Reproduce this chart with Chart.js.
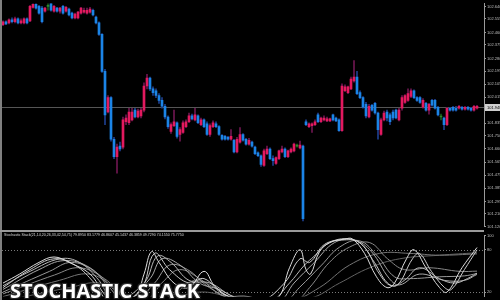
<!DOCTYPE html>
<html>
<head>
<meta charset="utf-8">
<script src="https://cdn.jsdelivr.net/npm/chart.js@4"></script>
<style>
  html, body { margin: 0; padding: 0; background: #000; }
  #wrap { position: relative; width: 500px; height: 300px; overflow: hidden; background: #000; }
  #mainChart { position: absolute; left: 0; top: 0; }
  #stochChart { position: absolute; left: 0; top: 232px; }
  #sep { position: absolute; left: 0; top: 230px; width: 484px; height: 2px; background: #9a9a9a; }
  #stochTitle {
    position: absolute; left: 4px; top: 233px; font: 3.6px "Liberation Sans", Arial, sans-serif;
    color: #d8d8d8; white-space: nowrap;
  }
  #bigTitle {
    position: absolute; left: 10px; top: 281px; font: bold 20px "Open Sans", sans-serif;
    line-height: 20px; color: #fff; white-space: nowrap;
    text-shadow: 1px 1px 1px #222, -1px -1px 1px #333, 1px -1px 1px #333, -1px 1px 1px #333;
  }
</style>
</head>
<body>
<div id="wrap">
  <canvas id="mainChart" width="500" height="230"></canvas>
  <div id="sep"></div>
  <canvas id="stochChart" width="500" height="68"></canvas>
  <div id="stochTitle">Stochastic Stack(21,14,20,26,33,42,54,75) 79.8950 83.1779 46.8607 45.1437 46.3859 49.7290 74.1550 75.7750</div>
  <div id="bigTitle">STOCHASTIC STACK</div>
</div>
<script>
const priceLabels = [102.640, 102.555, 102.460, 102.375, 102.280, 102.195, 102.105, 102.015, 101.925,
  101.835, 101.750, 101.660, 101.565, 101.475, 101.385, 101.295, 101.210, 101.120];
const currentPrice = 101.948;
const stochLevels = [100, 80, 20];

const opens = [102.515, 102.535, 102.528, 102.548, 102.535, 102.555, 102.528, 102.528, 102.555, 102.541,
  102.635, 102.655, 102.642, 102.629, 102.608, 102.642, 102.662, 102.608, 102.629, 102.608,
  102.642, 102.608, 102.622, 102.595, 102.562, 102.562, 102.595, 102.602, 102.595, 102.602,
  102.615, 102.568, 102.528, 102.448, 102.193, 101.912, 102.012, 101.724, 101.603, 101.677,
  101.670, 101.845, 101.838, 101.858, 101.925, 101.878, 101.885, 101.925, 102.092, 102.146,
  102.072, 102.059, 102.026, 101.992, 101.952, 101.878, 101.778, 101.818, 101.838, 101.757,
  101.771, 101.811, 101.845, 101.885, 101.858, 101.885, 101.825, 101.858, 101.831, 101.757,
  101.811, 101.831, 101.811, 101.751, 101.744, 101.737, 101.724, 101.717, 101.637, 101.704,
  101.757, 101.724, 101.690, 101.704, 101.670, 101.630, 101.610, 101.543, 101.624, 101.657,
  101.590, 101.557, 101.590, 101.637, 101.657, 101.603, 101.637, 101.644, 101.677, 101.664,
  101.677, 101.845, 101.811, 101.818, 101.825, 101.892, 101.845, 101.858, 101.851, 101.851,
  101.892, 101.871, 101.858, 101.784, 102.059, 102.046, 102.072, 102.126, 102.153, 102.046,
  102.012, 101.965, 101.878, 101.959, 101.972, 101.905, 101.757, 101.858, 101.912, 101.892,
  101.912, 101.925, 101.858, 101.938, 101.979, 101.992, 102.019, 102.059, 102.012, 102.012,
  101.945, 101.972, 101.925, 101.992, 101.992, 101.945, 101.878, 101.871, 101.825, 101.938,
  101.945, 101.938, 101.938, 101.945, 101.932, 101.945, 101.938, 101.925, 101.938];
const highs = [102.541, 102.541, 102.555, 102.562, 102.568, 102.562, 102.555, 102.562, 102.562, 102.649,
  102.662, 102.662, 102.649, 102.642, 102.635, 102.662, 102.662, 102.649, 102.635, 102.635,
  102.649, 102.642, 102.629, 102.602, 102.595, 102.608, 102.635, 102.629, 102.629, 102.635,
  102.622, 102.575, 102.535, 102.454, 102.206, 102.026, 102.019, 101.737, 101.690, 101.704,
  101.878, 101.892, 101.938, 101.938, 101.938, 101.932, 101.938, 102.113, 102.173, 102.153,
  102.086, 102.072, 102.039, 102.012, 101.965, 101.885, 101.838, 101.925, 101.845, 101.804,
  101.851, 101.858, 101.905, 101.898, 101.938, 101.892, 101.871, 101.865, 101.845, 101.831,
  101.851, 101.845, 101.818, 101.757, 101.751, 101.744, 101.791, 101.724, 101.737, 101.804,
  101.764, 101.731, 101.731, 101.711, 101.677, 101.637, 101.617, 101.657, 101.677, 101.664,
  101.610, 101.603, 101.650, 101.677, 101.664, 101.650, 101.664, 101.697, 101.690, 101.711,
  101.684, 101.858, 101.838, 101.838, 101.858, 101.905, 101.878, 101.885, 101.878, 101.871,
  101.898, 101.878, 101.865, 102.106, 102.099, 102.092, 102.153, 102.267, 102.193, 102.059,
  102.019, 101.979, 101.965, 101.965, 101.979, 101.912, 101.871, 101.918, 101.925, 101.905,
  101.925, 101.932, 101.938, 102.026, 102.032, 102.072, 102.072, 102.066, 102.019, 102.019,
  102.005, 101.979, 101.972, 101.999, 101.999, 101.952, 101.898, 101.878, 101.945, 101.945,
  101.952, 101.952, 101.959, 101.952, 101.952, 101.952, 101.945, 101.959, 101.959];
const lows = [102.508, 102.515, 102.521, 102.528, 102.528, 102.521, 102.521, 102.521, 102.521, 102.535,
  102.629, 102.622, 102.588, 102.528, 102.602, 102.615, 102.608, 102.602, 102.602, 102.595,
  102.588, 102.602, 102.575, 102.555, 102.555, 102.555, 102.588, 102.595, 102.588, 102.595,
  102.575, 102.521, 102.441, 102.186, 101.825, 101.905, 101.711, 101.590, 101.490, 101.644,
  101.657, 101.825, 101.825, 101.851, 101.871, 101.871, 101.871, 101.912, 102.072, 102.059,
  102.026, 102.012, 101.972, 101.938, 101.865, 101.798, 101.764, 101.811, 101.731, 101.711,
  101.764, 101.804, 101.838, 101.858, 101.851, 101.831, 101.818, 101.804, 101.751, 101.744,
  101.804, 101.804, 101.751, 101.717, 101.717, 101.717, 101.717, 101.630, 101.630, 101.697,
  101.711, 101.684, 101.684, 101.670, 101.617, 101.603, 101.536, 101.536, 101.617, 101.583,
  101.543, 101.550, 101.583, 101.630, 101.597, 101.597, 101.630, 101.637, 101.670, 101.657,
  101.161, 101.818, 101.804, 101.771, 101.818, 101.838, 101.838, 101.851, 101.845, 101.845,
  101.851, 101.845, 101.778, 101.778, 102.052, 102.039, 102.066, 102.119, 102.032, 102.005,
  101.938, 101.871, 101.871, 101.918, 101.898, 101.724, 101.751, 101.851, 101.851, 101.825,
  101.858, 101.865, 101.851, 101.925, 101.972, 101.985, 102.012, 102.005, 101.985, 101.972,
  101.938, 101.918, 101.898, 101.952, 101.932, 101.885, 101.858, 101.791, 101.818, 101.918,
  101.918, 101.918, 101.932, 101.925, 101.925, 101.925, 101.918, 101.918, 101.932];
const closes = [102.535, 102.521, 102.548, 102.535, 102.555, 102.528, 102.541, 102.555, 102.528, 102.642,
  102.655, 102.629, 102.595, 102.535, 102.629, 102.642, 102.615, 102.642, 102.608, 102.629,
  102.595, 102.635, 102.582, 102.562, 102.588, 102.602, 102.629, 102.615, 102.615, 102.622,
  102.582, 102.528, 102.448, 102.193, 101.892, 102.012, 101.724, 101.603, 101.670, 101.657,
  101.858, 101.871, 101.912, 101.912, 101.878, 101.918, 101.925, 102.092, 102.146, 102.072,
  102.046, 102.026, 101.992, 101.952, 101.878, 101.811, 101.825, 101.845, 101.744, 101.791,
  101.838, 101.845, 101.885, 101.865, 101.892, 101.838, 101.858, 101.811, 101.757, 101.818,
  101.838, 101.811, 101.757, 101.724, 101.724, 101.724, 101.744, 101.637, 101.724, 101.757,
  101.717, 101.690, 101.717, 101.677, 101.624, 101.610, 101.550, 101.644, 101.657, 101.590,
  101.577, 101.597, 101.644, 101.657, 101.603, 101.644, 101.657, 101.690, 101.677, 101.684,
  101.175, 101.825, 101.831, 101.831, 101.845, 101.845, 101.871, 101.871, 101.865, 101.865,
  101.858, 101.851, 101.784, 102.092, 102.086, 102.086, 102.139, 102.153, 102.039, 102.012,
  101.945, 101.885, 101.952, 101.925, 101.905, 101.791, 101.858, 101.905, 101.871, 101.845,
  101.871, 101.871, 101.925, 102.012, 102.026, 102.039, 102.059, 102.012, 101.992, 101.979,
  101.992, 101.925, 101.965, 101.959, 101.938, 101.892, 101.878, 101.825, 101.938, 101.925,
  101.925, 101.925, 101.952, 101.932, 101.945, 101.932, 101.925, 101.952, 101.952];

// stochastic lines: [bar index, value]
const stoch14 = [[0,32.8],[5.5,45.5],[12,62.1],[17,69.8],[22,62.1],[29,45.5],[34,16.2],[37,7.2],[44,13.6],[47,45.5],
  [49.5,77.4],[52,62.1],[57,32.8],[62,26.4],[67,49.4],[70.5,28.9],[75.5,13.6],[82,13.6],[87,7.2],[92,13.6],
  [95.5,54.5],[99,80],[101,51.9],[102.5,45.5],[105.5,77.4],[109,90.2],[114,95.3],[116.5,95.3],[120.5,74.9],[124.5,41.7],
  [128,26.4],[130.5,32.8],[134.5,67.2],[137,80],[141,54.5],[145.5,26.4],[148,20],[153,54.5],[158,83.2]];
const stoch21 = [[0,26.4],[9,51.9],[17,67.2],[24,58.3],[30.5,32.8],[35.5,7.2],[45.5,20],[50.5,74.9],[55.5,51.9],[62,32.8],
  [67,39.1],[73.8,16.2],[85.5,7.2],[93.8,32.8],[99,67.2],[102.2,62.1],[107.2,87.7],[113.8,94.0],[118.8,90.2],[123.8,62.1],
  [128.2,32.8],[131.5,30.2],[136.5,67.2],[138.8,74.9],[142.8,49.4],[147.2,26.4],[149.5,23.8],[153.8,51.9],[158,79.9]];
const stoch20 = [[0,29],[9,49.4],[19,67.2],[25.5,62.1],[32,36.6],[37,7.2],[47,32.8],[51.5,71.1],[56,62.1],[62,36.6],
  [69,32.8],[77,13.6],[89,7.2],[95.5,32.8],[100.5,58.3],[103.8,71.1],[108.8,90.2],[115.5,95.3],[120.5,83.8],[125.5,45.5],
  [129.5,28.9],[133.8,36.6],[138.8,54.5],[145.5,39.1],[150.5,32.8],[154.8,39.1],[158,46.9]];
const stoch26 = [[0,23.8],[12,51.9],[20.5,64.7],[29,54.5],[35.5,26.4],[40.5,7.2],[49,39.1],[53,67.2],[59,58.3],[65.5,32.8],
  [72,23.8],[80.5,7.2],[92,7.2],[97,32.8],[103.8,62.1],[110.5,90.2],[117,94],[122.8,77.4],[128.8,39.1],[132.2,30.2],
  [138.8,45.5],[147.2,36.6],[153.8,36.6],[158,45.1]];
const stoch33 = [[0,20],[15.5,49.4],[22.8,62.1],[30.5,49.4],[38,20],[43.8,7.2],[50.5,32.8],[55.5,58.3],[61.5,51.9],[68.8,26.4],
  [78.8,7.2],[93.8,7.2],[98.8,26.4],[106.2,58.3],[112.2,83.8],[118.8,92.8],[124.8,71.1],[130.5,41.7],[135.5,39.1],[145.5,41.7],
  [153.8,43],[158,46.4]];
const stoch42 = [[0,17.4],[17.2,44.3],[25.5,54.5],[33.8,39.1],[40.5,13.6],[47.2,7.2],[53.8,36.6],[58.8,51.9],[65.5,39.1],[73.8,13.6],
  [85.5,7.2],[97.2,7.2],[102.2,26.4],[108.8,62.1],[115.5,83.8],[122.2,90.2],[128.2,67.2],[133.8,51.9],[142.2,54.5],[152.2,49.4],
  [158,49.7]];
const stoch54 = [[0,13.6],[18.8,36.6],[28.8,45.5],[37.2,26.4],[43.8,7.2],[55.5,13.6],[63.8,36.6],[70.5,26.4],[78.8,7.2],[95.5,7.2],
  [105.5,26.4],[115.5,58.3],[125.5,74.9],[135.5,74.9],[145.5,72.3],[158,74.2]];
const stoch75 = [[0,7.2],[22.2,26.4],[32.2,32.8],[42.2,13.6],[52.2,7.2],[65.5,20],[75.5,13.6],[85.5,7.2],[102.2,11.1],[112.2,32.8],
  [122.2,54.5],[132.2,67.2],[145.5,72.3],[158,75.8]];

const stochSeries = [stoch14, stoch21, stoch20, stoch26, stoch33, stoch42, stoch54, stoch75];
const stochColors = ["#dcdcdc", "#cacaca", "#b8b8b8", "#a8a8a8", "#989898", "#888888", "#747474", "#626262"];

const upColor = "#e3195f";
const downColor = "#1b84e6";
const flatColor = "#2a8a2a";

function candleColor(i) {
  if (closes[i] > opens[i]) return upColor;
  if (closes[i] < opens[i]) return downColor;
  return flatColor;
}

function wickColor(i) {
  if (closes[i] > opens[i]) return "#6e1650";
  if (closes[i] < opens[i]) return "#1d3f8f";
  return "#1a5a1a";
}

const idx = opens.map((_, i) => i);
const xMin = -1 / 3;
const xMax = xMin + 482 / 3;
const axisFont = { size: 4, family: "'Liberation Sans', Arial, sans-serif" };

const mainDecor = {
  id: "mainDecor",
  beforeDatasetsDraw(chart) {
    const { ctx, chartArea, scales } = chart;
    const y = Math.round(scales.y.getPixelForValue(currentPrice)) + 0.5;
    ctx.save();
    ctx.strokeStyle = "#555555";
    ctx.lineWidth = 1;
    ctx.beginPath();
    ctx.moveTo(chartArea.left, y);
    ctx.lineTo(chartArea.right, y);
    ctx.stroke();
    ctx.restore();
  },
  afterDraw(chart) {
    const { ctx, chartArea, scales } = chart;
    const y = Math.round(scales.y.getPixelForValue(currentPrice)) + 0.5;
    ctx.save();
    ctx.fillStyle = "#808080";
    ctx.fillRect(0, 0, 2, chart.height);
    ctx.fillStyle = "#cfcfcf";
    ctx.fillRect(chartArea.right + 1, y - 3.5, 16, 7);
    ctx.fillStyle = "#000";
    ctx.font = "4px 'Liberation Sans', Arial, sans-serif";
    ctx.textBaseline = "middle";
    ctx.fillText(currentPrice.toFixed(3), chartArea.right + 3, y + 0.5);
    ctx.restore();
  },
};

new Chart(document.getElementById("mainChart"), {
  type: "bar",
  data: {
    datasets: [
      {
        label: "wicks",
        data: idx.map((i) => ({ x: i, y: [lows[i], highs[i]] })),
        backgroundColor: idx.map(wickColor),
        barThickness: 1,
        grouped: false,
        order: 2,
      },
      {
        label: "bodies",
        data: idx.map((i) => ({
          x: i,
          y: [Math.min(opens[i], closes[i]), Math.max(opens[i], closes[i])],
        })),
        backgroundColor: idx.map(candleColor),
        barThickness: 2,
        minBarLength: 1,
        grouped: false,
        order: 1,
      },
    ],
  },
  options: {
    responsive: false,
    animation: false,
    layout: { padding: { left: 2, right: 0, top: 0, bottom: 0 }, autoPadding: false },
    plugins: { legend: { display: false }, tooltip: { enabled: false } },
    scales: {
      x: { type: "linear", min: xMin, max: xMax, offset: false, display: false },
      y: {
        position: "right",
        min: 101.121,
        max: 102.662,
        afterBuildTicks: (s) => {
          s.ticks = priceLabels.map((v) => ({ value: v }));
        },
        afterFit: (s) => {
          s.width = 16;
        },
        border: { color: "#9a9a9a", width: 1 },
        grid: { drawOnChartArea: false, tickLength: 2, color: "#9a9a9a" },
        ticks: {
          color: "#bdbdbd",
          padding: 1,
          font: axisFont,
          callback: (v) => Number(v).toFixed(3),
        },
      },
    },
  },
  plugins: [mainDecor],
});

const stochDecor = {
  id: "stochDecor",
  beforeDatasetsDraw(chart) {
    const { ctx, chartArea, scales } = chart;
    ctx.save();
    ctx.strokeStyle = "#7a7a7a";
    ctx.lineWidth = 1;
    ctx.setLineDash([1, 2]);
    [80, 20].forEach((lvl) => {
      const y = Math.round(scales.y.getPixelForValue(lvl)) + 0.5;
      ctx.beginPath();
      ctx.moveTo(chartArea.left, y);
      ctx.lineTo(chartArea.right, y);
      ctx.stroke();
    });
    ctx.restore();
  },
  afterDraw(chart) {
    const { ctx } = chart;
    ctx.save();
    ctx.fillStyle = "#808080";
    ctx.fillRect(0, 0, 2, chart.height);
    ctx.restore();
  },
};

new Chart(document.getElementById("stochChart"), {
  type: "line",
  data: {
    datasets: stochSeries.map((series, k) => ({
      data: series.map(([x, y]) => ({ x, y })),
      borderColor: stochColors[k],
      borderWidth: 1,
      pointRadius: 0,
      tension: 0.4,
      fill: false,
    })),
  },
  options: {
    responsive: false,
    animation: false,
    layout: { padding: { left: 2, right: 0, top: 0, bottom: 0 }, autoPadding: false },
    plugins: { legend: { display: false }, tooltip: { enabled: false } },
    scales: {
      x: { type: "linear", min: xMin, max: xMax, offset: false, display: false },
      y: {
        position: "right",
        min: 13.6,
        max: 100.4,
        afterBuildTicks: (s) => {
          s.ticks = stochLevels.map((v) => ({ value: v }));
        },
        afterFit: (s) => {
          s.width = 16;
        },
        border: { color: "#9a9a9a", width: 1 },
        grid: { drawOnChartArea: false, tickLength: 2, color: "#9a9a9a" },
        ticks: { color: "#bdbdbd", padding: 1, font: axisFont },
      },
    },
  },
  plugins: [stochDecor],
});
</script>
</body>
</html>
